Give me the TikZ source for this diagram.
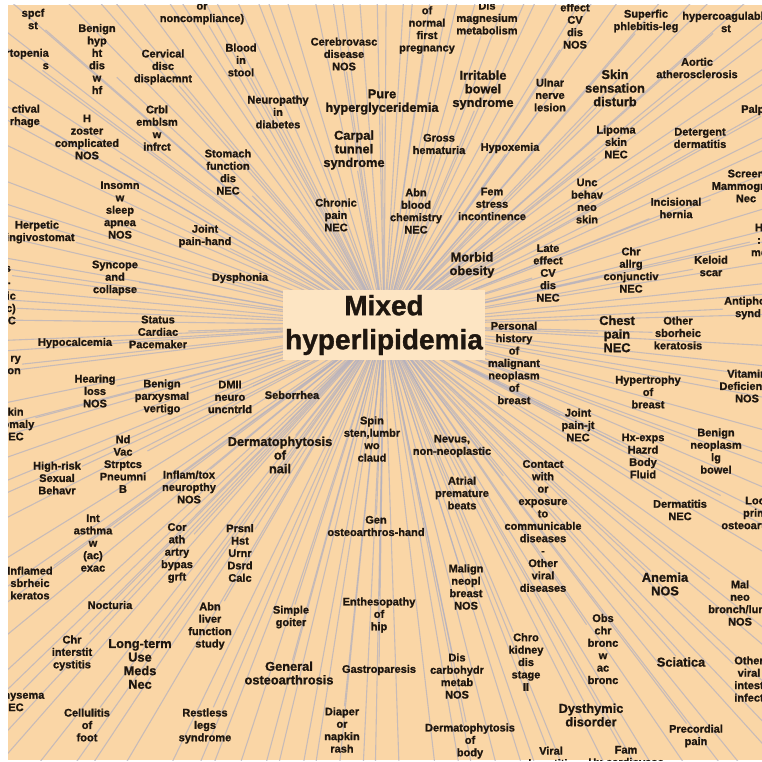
\documentclass[tikz,border=0pt]{standalone}
\usepackage{fontspec}
\setmainfont{Liberation Sans}[BoldFeatures={FakeBold=1.2}]
\definecolor{paper}{RGB}{250,214,166}
\definecolor{hubfill}{RGB}{253,229,195}
\definecolor{spoke}{RGB}{178,176,192}
\definecolor{ink}{RGB}{30,22,15}
\pgfdeclarelayer{sheet}
\pgfdeclarelayer{spokes}
\pgfsetlayers{sheet,spokes,main}
\tikzset{
  dx-label/.style={align=center, font=\bfseries\fontsize{11}{12.4}\selectfont, text=ink, inner sep=1pt},
  dx-big/.style={dx-label, font=\bfseries\fontsize{12.8}{13.6}\selectfont},
  dx-hub/.style={fill=hubfill, align=center, font=\bfseries\fontsize{28}{34}\selectfont, text=ink,
    minimum width=194pt, minimum height=70pt, inner sep=2pt},
  dx-spoke/.style={draw=spoke, line width=1.1pt, opacity=0.7}
}

\begin{document}
\begin{tikzpicture}[x=1pt, y=-1pt]
  \useasboundingbox (0,0) rectangle (762,762);
  \begin{scope}
  \clip (8,5) rectangle (762,760);
  % centre
  \node[dx-hub] (hub) at (384,325) {Mixed\\hyperlipidemia};

  % upper band
  \node[dx-label] (spcf) at (33,19) {spcf\\st};
  \node[dx-label] (benignhyp) at (97,59) {Benign\\hyp\\ht\\dis\\w\\hf};
  \node[dx-label] (noncomp) at (202,14) {or\\noncompliance)};
  \node[dx-label] (cervical) at (163,67) {Cervical\\disc\\displacmnt};
  \node[dx-label] (blood) at (241,60) {Blood\\in\\stool};
  \node[dx-label] (neuropathy) at (278,112) {Neuropathy\\in\\diabetes};
  \node[dx-label] (cerebro) at (344,54) {Cerebrovasc\\disease\\NOS};
  \node[dx-label] (pregnancy) at (427,30) {of\\normal\\first\\pregnancy};
  \node[dx-label] (magnesium) at (487,18) {Dis\\magnesium\\metabolism};
  \node[dx-big] (pure) at (382,102) {Pure\\hyperglyceridemia};
  \node[dx-big] (irritable) at (483,90) {Irritable\\bowel\\syndrome};
  \node[dx-big] (carpal) at (354,150) {Carpal\\tunnel\\syndrome};
  \node[dx-label] (hematuria) at (439,144) {Gross\\hematuria};
  \node[dx-label] (hypoxemia) at (510,148) {Hypoxemia};
  \node[dx-label] (effectnos) at (575,26) {effect\\CV\\dis\\NOS};
  \node[dx-label] (superfic) at (646,21) {Superfic\\phlebitis-leg};
  \node[dx-label] (hypercoag) at (726,22) {hypercoagulable\\st};
  \node[dx-label] (aortic) at (697,68) {Aortic\\atherosclerosis};
  \node[dx-big] (skinsens) at (615,88) {Skin\\sensation\\disturb};
  \node[dx-label] (ulnar) at (550,95) {Ulnar\\nerve\\lesion};
  \node[dx-label, anchor=west] (palp) at (740,110) {Palpitations};
  \node[dx-label] (lipoma) at (616,142) {Lipoma\\skin\\NEC};
  \node[dx-label] (detergent) at (700,138) {Detergent\\dermatitis};
  \node[dx-label, anchor=east, align=right] (topenia) at (50,59) {rtopenia\\s};
  \node[dx-label, anchor=east, align=right] (ctival) at (41,116) {ctival\\rhage};
  \node[dx-label] (hzoster) at (87,137) {H\\zoster\\complicated\\NOS};
  \node[dx-label] (crbl) at (157,128) {Crbl\\emblsm\\w\\infrct};
  \node[dx-label] (stomach) at (228,172) {Stomach\\function\\dis\\NEC};
  \node[dx-label] (insomn) at (120,210) {Insomn\\w\\sleep\\apnea\\NOS};
  \node[dx-label] (chronicpain) at (336,215) {Chronic\\pain\\NEC};
  \node[dx-label] (abnblood) at (416,211) {Abn\\blood\\chemistry\\NEC};
  \node[dx-label] (femstress) at (492,204) {Fem\\stress\\incontinence};
  \node[dx-label] (unc) at (587,201) {Unc\\behav\\neo\\skin};
  \node[dx-label] (incisional) at (676,208) {Incisional\\hernia};
  \node[dx-label] (screening) at (746,186) {Screen\\Mammogram\\Nec};

  % middle band
  \node[dx-label] (herpetic) at (37,232) {Herpetic\\gingivostomat};
  \node[dx-label] (jointhand) at (205,236) {Joint\\pain-hand};
  \node[dx-label] (syncope) at (115,278) {Syncope\\and\\collapse};
  \node[dx-label] (dysphonia) at (240,278) {Dysphonia};
  \node[dx-big] (morbid) at (472,265) {Morbid\\obesity};
  \node[dx-label] (effectnec) at (548,273) {Late\\effect\\CV\\dis\\NEC};
  \node[dx-label] (chrallrg) at (631,270) {Chr\\allrg\\conjunctiv\\NEC};
  \node[dx-label] (keloid) at (711,266) {Keloid\\scar};
  \node[dx-label] (hme) at (759,240) {H\\:\\me};
  \node[dx-label, anchor=east, align=right] (sdot) at (12,275) {s\\.};
  \node[dx-label, anchor=east, align=right] (icc) at (17,308) {ic\\c)\\C};
  \node[dx-label] (status) at (158,332) {Status\\Cardiac\\Pacemaker};
  \node[dx-label] (hypocalc) at (75,343) {Hypocalcemia};
  \node[dx-label, anchor=east, align=right] (ryon) at (22,365) {ry\\on};
  \node[dx-label] (personal) at (514,363) {Personal\\history\\of\\malignant\\neoplasm\\of\\breast};
  \node[dx-big] (chestpain) at (617,334) {Chest\\pain\\NEC};
  \node[dx-label] (othersborheic) at (678,333) {Other\\sborheic\\keratosis};
  \node[dx-label] (antiphos) at (748,308) {Antiphos\\synd};
  \node[dx-label] (hearing) at (95,391) {Hearing\\loss\\NOS};
  \node[dx-label] (parxysmal) at (162,397) {Benign\\parxysmal\\vertigo};
  \node[dx-label] (dmii) at (230,397) {DMII\\neuro\\uncntrld};
  \node[dx-label] (seborrhea) at (292,395) {Seborrhea};
  \node[dx-label] (hypertrophy) at (648,392) {Hypertrophy\\of\\breast};
  \node[dx-label] (vitamin) at (747,386) {Vitamin\\Deficiency\\NOS};
  \node[dx-label] (skinanom) at (12,424) {Skin\\anomaly\\NEC};

  % lower band
  \node[dx-big] (dermnail) at (280,455) {Dermatophytosis\\of\\nail};
  \node[dx-label] (spin) at (372,439) {Spin\\sten,lumbr\\wo\\claud};
  \node[dx-label] (nevus) at (452,446) {Nevus,\\non-neoplastic};
  \node[dx-label] (jointjt) at (578,425) {Joint\\pain-jt\\NEC};
  \node[dx-label] (hxexps) at (643,456) {Hx-exps\\Hazrd\\Body\\Fluid};
  \node[dx-label] (benignneo) at (716,451) {Benign\\neoplasm\\lg\\bowel};
  \node[dx-label] (ndvac) at (123,464) {Nd\\Vac\\Strptcs\\Pneumni\\B};
  \node[dx-label] (highrisk) at (57,478) {High-risk\\Sexual\\Behavr};
  \node[dx-label] (inflamtox) at (189,487) {Inflam/tox\\neuropthy\\NOS};
  \node[dx-label] (atrial) at (462,493) {Atrial\\premature\\beats};
  \node[dx-label] (contact) at (543,526) {Contact\\with\\or\\exposure\\to\\communicable\\diseases\\-\\Other\\viral\\diseases};
  \node[dx-label] (dermnec) at (680,510) {Dermatitis\\NEC};
  \node[dx-label] (loprim) at (755,513) {Loc\\prim\\osteoarthros};
  \node[dx-label] (intasthma) at (93,543) {Int\\asthma\\w\\(ac)\\exac};
  \node[dx-label] (corath) at (177,553) {Cor\\ath\\artry\\bypas\\grft};
  \node[dx-label] (prsnl) at (240,553) {Prsnl\\Hst\\Urnr\\Dsrd\\Calc};
  \node[dx-label] (genhand) at (376,526) {Gen\\osteoarthros-hand};
  \node[dx-label] (inflamed) at (30,583) {Inflamed\\sbrheic\\keratos};
  \node[dx-label] (malign) at (466,587) {Malign\\neopl\\breast\\NOS};
  \node[dx-big] (anemia) at (665,584) {Anemia\\NOS};
  \node[dx-label] (malneo) at (740,603) {Mal\\neo\\bronch/lung\\NOS};
  \node[dx-label] (nocturia) at (110,605) {Nocturia};
  \node[dx-label] (abnliver) at (210,626) {Abn\\liver\\function\\study};
  \node[dx-label] (goiter) at (291,617) {Simple\\goiter};
  \node[dx-label] (enthes) at (379,615) {Enthesopathy\\of\\hip};
  \node[dx-label] (obs) at (603,649) {Obs\\chr\\bronc\\w\\ac\\bronc};
  \node[dx-label] (chrinter) at (72,653) {Chr\\interstit\\cystitis};
  \node[dx-big] (longterm) at (140,664) {Long-term\\Use\\Meds\\Nec};
  \node[dx-big] (general) at (289,673) {General\\osteoarthrosis};
  \node[dx-label] (gastro) at (379,670) {Gastroparesis};
  \node[dx-label] (discarb) at (457,676) {Dis\\carbohydr\\metab\\NOS};
  \node[dx-label] (chro) at (526,662) {Chro\\kidney\\dis\\stage\\II};
  \node[dx-big] (sciatica) at (681,662) {Sciatica};
  \node[dx-label] (otherviral) at (749,679) {Other\\viral\\intest\\infect};
  \node[dx-label] (emphysema) at (12,701) {Emphysema\\NEC};
  \node[dx-big] (dysthymic) at (591,715) {Dysthymic\\disorder};
  \node[dx-label] (cellulitis) at (87,725) {Cellulitis\\of\\foot};
  \node[dx-label] (restless) at (205,726) {Restless\\legs\\syndrome};
  \node[dx-label] (diaper) at (342,730) {Diaper\\or\\napkin\\rash};
  \node[dx-label] (dermbody) at (470,741) {Dermatophytosis\\of\\body};
  \node[dx-label] (precordial) at (696,736) {Precordial\\pain};
  \node[dx-label] (viral) at (551,758) {Viral\\hepatitis};
  \node[dx-label] (fam) at (626,756) {Fam\\Hx-cardiovasc};
  \end{scope}

  % sheet
  \begin{pgfonlayer}{sheet}
    \fill[paper] (8,5) rectangle (762,760);
  \end{pgfonlayer}

  % spokes out of the centre
  \begin{pgfonlayer}{spokes}
    \clip (8,5) rectangle (762,760);
    \foreach \n in {spcf,benignhyp,noncomp,cervical,blood,neuropathy,cerebro,pregnancy,magnesium,
      pure,irritable,carpal,hematuria,hypoxemia,effectnos,superfic,hypercoag,aortic,skinsens,ulnar,
      palp,lipoma,detergent,topenia,ctival,hzoster,crbl,stomach,insomn,chronicpain,abnblood,
      femstress,unc,incisional,screening,herpetic,jointhand,syncope,dysphonia,morbid,effectnec,
      chrallrg,keloid,hme,sdot,icc,status,hypocalc,ryon,personal,chestpain,othersborheic,antiphos,
      hearing,parxysmal,dmii,seborrhea,hypertrophy,vitamin,skinanom,dermnail,spin,nevus,jointjt,
      hxexps,benignneo,ndvac,highrisk,inflamtox,atrial,contact,dermnec,loprim,intasthma,corath,
      prsnl,genhand,inflamed,malign,anemia,malneo,nocturia,abnliver,goiter,enthes,obs,chrinter,
      longterm,general,gastro,discarb,chro,sciatica,otherviral,emphysema,dysthymic,cellulitis,
      restless,diaper,dermbody,precordial,viral,fam}
      \draw[dx-spoke] (hub.center) -- (\n);
    % spokes to entries beyond the sheet
    \foreach \i in {1,...,130}{
      \pgfmathsetmacro\a{360*(\i*0.381966-floor(\i*0.381966))}
      \path (hub.center) ++(\a:700) coordinate (far\i);
      \draw[dx-spoke] (hub.center) -- (far\i);
    }
  \end{pgfonlayer}
\end{tikzpicture}
\end{document}
